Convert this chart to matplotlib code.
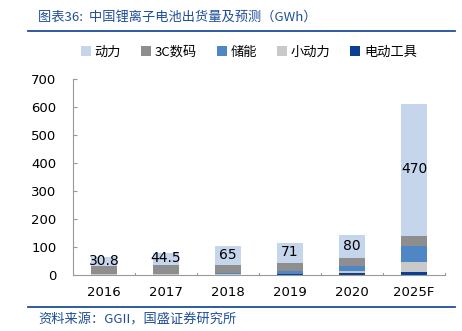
import matplotlib
matplotlib.use('Agg')
import matplotlib.pyplot as plt
import numpy as np

plt.rcParams['font.family'] = ['DejaVu Sans', 'Noto Sans CJK SC']

# data (GWh)
years = ['2016', '2017', '2018', '2019', '2020', '2025F']
power = [30.8, 44.5, 65, 71, 80, 470]      # 动力
digital_3c = [28.5, 30, 31, 30, 30, 35]    # 3C数码
storage = [1.5, 2, 3, 10, 16, 58]          # 储能
small_power = [1, 1.5, 1.5, 2, 9, 35]      # 小动力
power_tool = [1, 1.5, 1.5, 2, 7, 12]       # 电动工具
power_labels = ['30.8', '44.5', '65', '71', '80', '470']

blue = '#1F4E9A'
fig = plt.figure(figsize=(4.62, 3.31), dpi=100)
ax = fig.add_axes([73 / 462, 1 - 275 / 331, 372 / 462, 196 / 331])

x = np.arange(len(years))
w = 0.42
series = [
    ('电动工具', power_tool, '#0B3F93'),
    ('小动力', small_power, '#C9C9C9'),
    ('储能', storage, '#4F86C6'),
    ('3C数码', digital_3c, '#8E8E8E'),
    ('动力', power, '#C5D5EC'),
]
bottom = np.zeros(len(years))
handles = {}
for name, vals, col in series:
    b = ax.bar(x, vals, w, bottom=bottom, color=col, label=name, zorder=2)
    handles[name] = b
    bottom += np.array(vals)

# labels in power segment
pb = bottom - np.array(power)
for i, lab in enumerate(power_labels):
    ax.text(x[i], pb[i] + power[i] / 2 + 3, lab, ha='center', va='center',
            fontsize=10, color='black', zorder=3)

ax.set_xlim(-0.5, len(years) - 0.5)
ax.set_ylim(0, 700)
ax.set_yticks(range(0, 701, 100))
ax.set_xticks(x)
ax.set_xticklabels(years, fontsize=9.5)
ax.tick_params(axis='y', labelsize=9.5, length=3, direction='in', color='#999999', pad=12)
ax.tick_params(axis='x', length=0, pad=8)
# category separators
for s in np.arange(0.5, len(years) - 0.5, 1.0).tolist() + [len(years) - 0.5]:
    ax.plot([s, s], [0, 8], color='#999999', lw=0.8, clip_on=False, zorder=1)
for sp in ['top', 'right']:
    ax.spines[sp].set_visible(False)
ax.spines['left'].set_color('#999999')
ax.spines['bottom'].set_color('#999999')

order = ['动力', '3C数码', '储能', '小动力', '电动工具']
leg = fig.legend([handles[n] for n in order], order, loc='center',
                 bbox_to_anchor=(249 / 462, 1 - 52 / 331), ncol=5, frameon=False,
                 handlelength=0.75, handleheight=0.75, handletextpad=0.3,
                 columnspacing=1.5, prop={'family': ['Noto Sans CJK SC', 'DejaVu Sans'], 'size': 9.5})

# title and source with rules
fig.text(38 / 462, 1 - 17 / 331, '图表36:  中国锂离子电池出货量及预测（GWh）', color=blue,
         fontsize=9.5, style='italic', va='center', ha='left',
         family=['Noto Sans CJK SC', 'DejaVu Sans'])
fig.add_artist(plt.Line2D([28 / 462, 455 / 462], [1 - 31 / 331, 1 - 31 / 331],
                          color=blue, lw=1.3))
fig.add_artist(plt.Line2D([28 / 462, 455 / 462], [1 - 307 / 331, 1 - 307 / 331],
                          color=blue, lw=1.3))
fig.text(38 / 462, 1 - 320 / 331, '资料来源：GGII，国盛证券研究所', color=blue,
         fontsize=9.5, style='italic', va='center', ha='left',
         family=['Noto Sans CJK SC', 'DejaVu Sans'])

plt.savefig('out.png', dpi=100)
